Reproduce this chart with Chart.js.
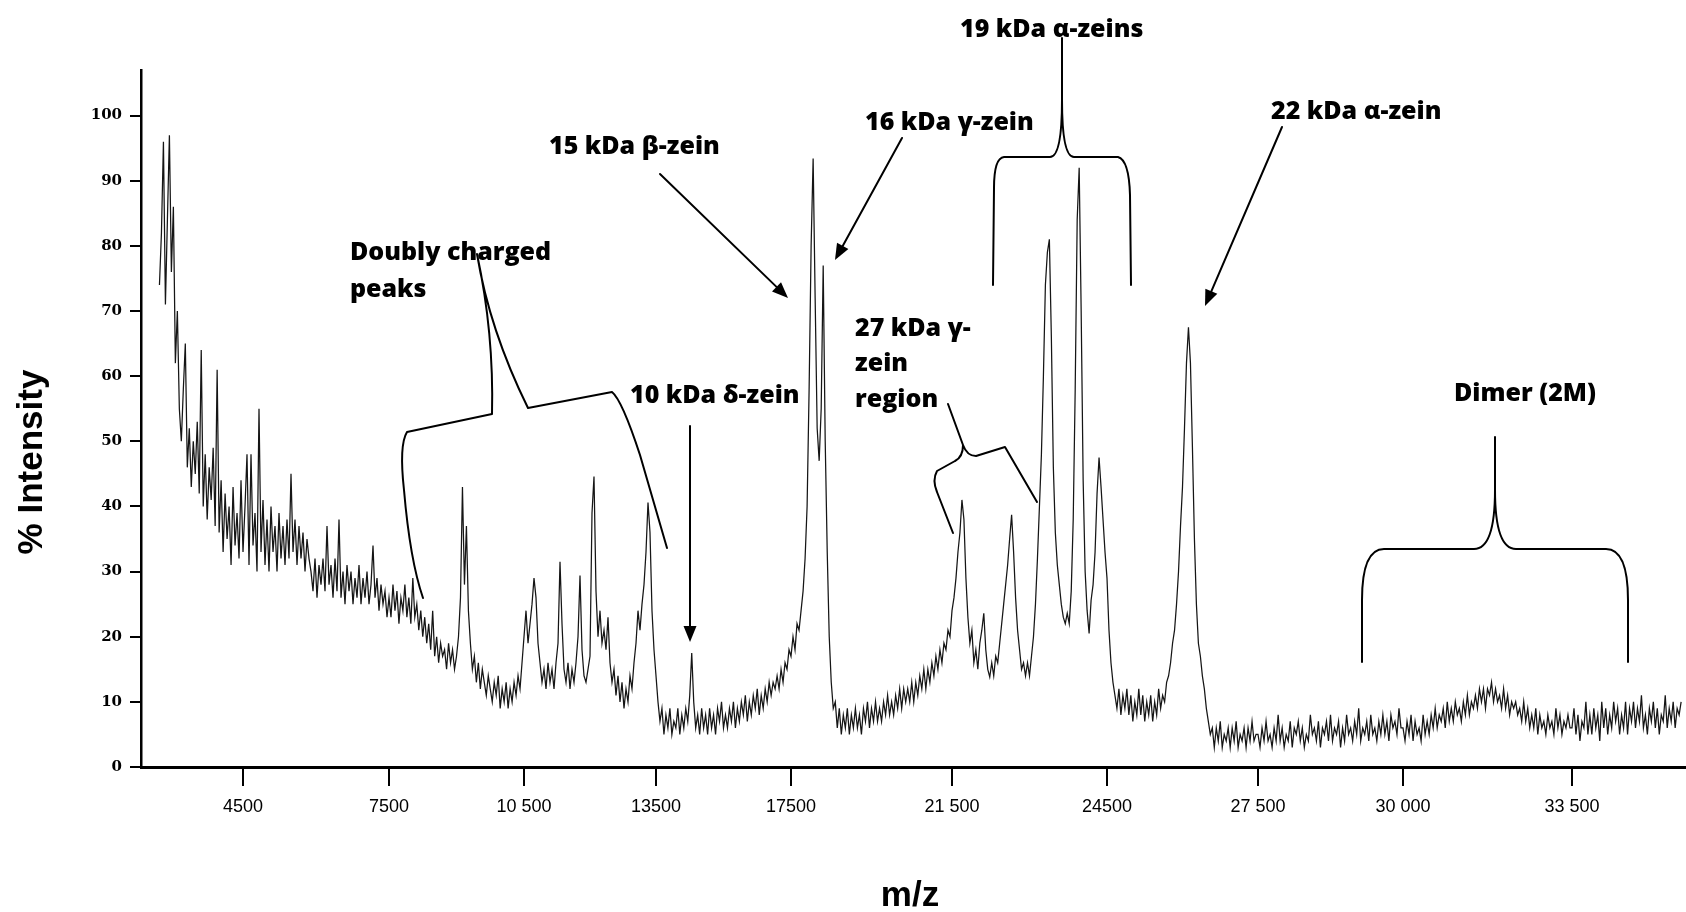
<!DOCTYPE html>
<html>
<head>
<meta charset="utf-8">
<title>Zein MALDI-TOF spectrum</title>
<script src="https://cdn.jsdelivr.net/npm/chart.js@4.4.1/dist/chart.umd.min.js"></script>
<style>
  html, body { margin: 0; padding: 0; background: #ffffff; }
  #wrap { width: 1686px; height: 912px; position: relative; }
  canvas { display: block; }
</style>
</head>
<body>
<div id="wrap"><canvas id="spectrum" width="1686" height="912"></canvas></div>
<script>
// ---- axis tick values and labels ----
const xTickValues = [4500, 7500, 10500, 13500, 17500, 21500, 24500, 27500, 30000, 33500];
const xTickLabels = ['4500', '7500', '10 500', '13500', '17500', '21 500', '24500', '27 500', '30 000', '33 500'];
const yTickValues = [0, 10, 20, 30, 40, 50, 60, 70, 80, 90, 100];

// ---- % intensity, sampled evenly across each m/z interval ----
const intensity2780 = [74, 82, 96, 71, 84, 97, 76, 86, 62, 70, 55, 50, 58, 65, 46, 52, 43, 50, 45, 53, 42, 64, 40, 48, 38, 46, 41, 49, 37, 61, 36, 44, 33, 42, 35, 40, 31, 43, 34, 39, 32, 44];
const intensity4500 = [33, 40, 48, 31, 48, 34, 39, 30, 55, 33, 41, 31, 38, 30, 40, 33, 37, 30, 39, 32, 37, 31, 38, 32, 45, 33, 38, 31, 37, 32, 36, 30, 35, 32, 30, 27, 32, 26, 31, 28, 32, 27, 37, 28, 31, 26, 32, 27, 38, 26, 30, 25, 31, 27, 30, 25, 29, 26, 31, 25, 29, 26, 30, 25, 28, 34, 26, 29, 24, 28, 25, 27, 23];
const intensity7500 = [26, 23, 28, 24, 27, 22, 26, 24, 28, 23, 26, 22, 29, 23, 25, 21, 24, 20, 23, 19, 22, 18, 24, 17, 20, 16, 19, 17, 18, 15, 19, 16, 18, 15, 17, 20, 26, 43, 28, 37, 24, 19, 15, 17, 13, 16, 12, 15, 13, 11, 14, 12, 10, 13, 11, 14, 9, 12, 10, 13, 9, 12, 10, 13, 11, 14, 12, 16];
const intensity10500 = [20, 24, 19, 22, 25, 29, 26, 19, 16, 13, 15, 12, 16, 13, 15, 12, 16, 19, 31.5, 22, 15, 13, 16, 12, 15, 13, 16, 20, 29.4, 18, 14, 13, 15, 17, 39, 44.6, 27, 20, 24, 19, 21, 18, 23, 16, 13, 15, 11, 14, 10, 13, 9, 12, 10, 14, 12, 16, 19, 24, 21, 25, 28, 33, 40.6, 36, 24, 18];
const intensity13500 = [14, 10, 7, 9, 5, 8, 6, 9, 5, 7, 6, 9, 5, 8, 6, 9, 7, 11, 17.5, 10, 6, 8, 5, 9, 6, 8, 5, 9, 6, 8, 5, 9, 7, 10, 6, 8, 6, 9, 7, 10, 6, 9, 7, 10, 8, 11, 7, 10, 8, 11, 9, 12, 8, 11, 9, 12, 10, 13, 11, 13, 12, 14, 12, 15, 13, 16, 15, 18];
const intensity17500 = [17, 20, 18, 22, 21, 24, 27, 32, 40, 58, 80, 93.4, 72, 52, 47, 55, 77, 50, 33, 20, 13, 9, 10, 6, 9, 5, 8, 6, 9, 5, 8, 6, 9, 6, 8, 5, 9, 7, 10, 6, 9, 7, 10, 7, 9, 7, 10, 8, 11, 8, 10, 8, 11, 9, 12, 9, 12, 10, 12, 10, 13, 10, 13, 11, 14, 12, 15, 12, 15, 13, 16, 14, 17, 15, 18, 16, 19, 18, 21, 20];
const intensity21500 = [24, 26, 29, 33, 36, 41, 38, 29, 23, 19, 21, 16, 18, 15, 19, 21, 23.6, 18, 15, 13.8, 16, 14, 17, 16, 19, 22, 25, 28, 31, 35, 38.7, 33, 26, 21, 18, 15, 16, 14, 16, 14, 17, 20, 25, 32, 40, 48, 60, 74, 79, 81, 66, 46, 36, 31, 28, 25, 23, 22, 23.6, 22, 27, 38, 58, 84, 92, 70, 44, 30, 24, 20.5, 25.6, 28, 33, 42, 47.5, 43, 38, 33];
const intensity24500 = [29, 21, 16, 13, 11, 9, 12, 8, 11, 9, 12, 8, 11, 7, 10, 8, 12, 8, 11, 7, 10, 8, 11, 7, 10, 8, 12, 9, 11, 10, 13, 14, 16, 19, 21, 25, 30, 37, 43, 52, 62, 67.5, 62, 49, 35, 25, 19, 17, 14, 12, 9, 7, 5, 6, 3, 6, 4, 7, 3, 5, 4, 6, 3, 6, 4, 7, 3, 5, 4, 6, 3, 6, 4, 7, 4, 5];
const intensity27500 = [5, 3, 6, 4, 7, 4, 5, 3, 6, 4, 8, 4, 6, 3, 5, 4, 7, 3, 6, 5, 7, 4, 6, 3, 5, 4, 8, 5, 6, 4, 7, 3, 6, 5, 7, 4, 8, 4, 6, 5, 7, 3, 6, 4, 8, 5, 6, 4, 7, 5, 9, 4, 6, 5, 7, 4, 8, 5, 6, 4, 7, 5, 8, 5, 7, 4, 8, 6, 7, 5, 9, 6];
const intensity30000 = [6, 4, 7, 5, 8, 4, 7, 5, 6, 4, 8, 5, 7, 5, 8, 6, 9, 6, 8, 7, 9, 6, 10, 7, 9, 7, 10, 8, 9, 7, 10, 8, 11, 8, 10, 9, 11, 9, 12, 10, 12, 9, 12, 11, 13, 10, 12, 10, 11, 9, 12, 9, 11, 8, 10, 9, 10, 8, 9, 7, 10, 7, 9, 6, 8, 6, 9, 5, 8, 6, 7, 5, 8, 6, 7, 5, 9, 6, 8, 5, 7, 6, 8, 6];
const intensity33500 = [6, 9, 5, 8, 4, 7, 6, 10, 5, 8, 5, 9, 6, 8, 4, 10, 6, 9, 5, 8, 6, 10, 7, 9, 5, 8, 6, 10, 5, 9, 7, 10, 6, 9, 7, 11, 6, 8, 5, 9, 7, 10, 6, 9, 5, 8, 7, 11, 6, 9, 7, 10, 6, 9, 8, 10];

// m/z interval covered by each block of samples
const spectrumBlocks = [
  [2780, 4500, intensity2780],
  [4500, 7500, intensity4500],
  [7500, 10500, intensity7500],
  [10500, 13500, intensity10500],
  [13500, 17500, intensity13500],
  [17500, 21500, intensity17500],
  [21500, 24500, intensity21500],
  [24500, 27500, intensity24500],
  [27500, 30000, intensity27500],
  [30000, 33500, intensity30000],
  [33500, 35800, intensity33500]
];

// annotation texts
const peakLabels = ['19 kDa α-zeins', '16 kDa γ-zein', '15 kDa β-zein', '22 kDa α-zein', 'Doubly charged', 'peaks', '10 kDa δ-zein', '27 kDa γ-', 'zein', 'region', 'Dimer (2M)'];

const spectrumPoints = spectrumBlocks.flatMap(([from, to, vals]) =>
  vals.map((y, i) => ({ x: from + (to - from) * i / vals.length, y })));

// ---- m/z axis: calibrated piecewise between the labelled marks ----
const mzStops = [2400, 4500, 7500, 10500, 13500, 17500, 21500, 24500, 27500, 30000, 33500, 35860];
const mzStopFractions = [0, 0.06602, 0.16052, 0.24790, 0.33333, 0.42071, 0.52492, 0.62524, 0.72298, 0.81683, 0.92621, 1];

function mzToFraction(v) {
  let k = 0;
  while (k < mzStops.length - 2 && v > mzStops[k + 1]) k++;
  const t = (v - mzStops[k]) / (mzStops[k + 1] - mzStops[k]);
  return mzStopFractions[k] + t * (mzStopFractions[k + 1] - mzStopFractions[k]);
}
function fractionToMz(f) {
  let k = 0;
  while (k < mzStopFractions.length - 2 && f > mzStopFractions[k + 1]) k++;
  const t = (f - mzStopFractions[k]) / (mzStopFractions[k + 1] - mzStopFractions[k]);
  return mzStops[k] + t * (mzStops[k + 1] - mzStops[k]);
}

class CalibratedMzScale extends Chart.LinearScale {
  getPixelForValue(value) {
    if (value === null || value === undefined || isNaN(value)) return NaN;
    return this.getPixelForDecimal(mzToFraction(value));
  }
  getValueForPixel(pixel) {
    return fractionToMz(this.getDecimalForPixel(pixel));
  }
}
CalibratedMzScale.id = 'calibratedMz';
CalibratedMzScale.defaults = Chart.LinearScale.defaults;
Chart.register(CalibratedMzScale);

// ---- annotation overlay: labels, arrows, brackets, axis titles ----
function arrow(ctx, x1, y1, x2, y2) {
  const ang = Math.atan2(y2 - y1, x2 - x1);
  const len = 16, half = 6.5;
  const bx = x2 - len * Math.cos(ang), by = y2 - len * Math.sin(ang);
  ctx.beginPath();
  ctx.moveTo(x1, y1);
  ctx.lineTo(bx, by);
  ctx.stroke();
  ctx.beginPath();
  ctx.moveTo(x2, y2);
  ctx.lineTo(bx + half * Math.sin(ang), by - half * Math.cos(ang));
  ctx.lineTo(bx - half * Math.sin(ang), by + half * Math.cos(ang));
  ctx.closePath();
  ctx.fill();
}

const annotationPlugin = {
  id: 'zeinAnnotations',
  afterDraw(chart) {
    const ctx = chart.ctx;
    ctx.save();
    ctx.fillStyle = '#000';
    ctx.strokeStyle = '#000';
    ctx.lineWidth = 2;
    ctx.lineJoin = 'round';
    ctx.lineCap = 'round';

    // peak labels
    const spots = [[960, 30], [865, 123], [549, 147], [1271, 112], [350, 253], [350, 290], [630, 396], [855, 329], [855, 364], [855, 400], [1454, 394]];
    ctx.font = "800 25px 'Open Sans', 'DejaVu Sans', sans-serif";
    ctx.textAlign = 'left';
    ctx.textBaseline = 'middle';
    peakLabels.forEach((t, i) => ctx.fillText(t, spots[i][0], spots[i][1]));

    // arrows
    arrow(ctx, 660, 174, 788, 298);
    arrow(ctx, 902, 138, 835, 260);
    arrow(ctx, 1282, 127, 1205, 306);
    arrow(ctx, 690, 426, 690, 642);

    // 19 kDa brace
    ctx.beginPath();
    ctx.moveTo(1062, 38); ctx.lineTo(1062, 100);
    ctx.quadraticCurveTo(1062, 157, 1050, 157);
    ctx.lineTo(1004, 157);
    ctx.quadraticCurveTo(994, 158, 994, 188);
    ctx.lineTo(993, 285);
    ctx.moveTo(1062, 100);
    ctx.quadraticCurveTo(1062, 157, 1074, 157);
    ctx.lineTo(1118, 157);
    ctx.quadraticCurveTo(1129, 160, 1130, 195);
    ctx.lineTo(1131, 285);
    ctx.stroke();

    // doubly charged bracket
    ctx.beginPath();
    ctx.moveTo(477, 254);
    ctx.quadraticCurveTo(494, 333, 492, 414);
    ctx.lineTo(407, 432);
    ctx.quadraticCurveTo(399, 445, 404, 490);
    ctx.quadraticCurveTo(410, 560, 423, 598);
    ctx.moveTo(477, 254);
    ctx.quadraticCurveTo(489.5, 330, 528, 408);
    ctx.lineTo(612, 392);
    ctx.quadraticCurveTo(622, 400, 640, 455);
    ctx.lineTo(667, 548);
    ctx.stroke();

    // 27 kDa region bracket
    ctx.beginPath();
    ctx.moveTo(948, 404);
    ctx.lineTo(963, 445);
    ctx.quadraticCurveTo(967, 456, 976, 456);
    ctx.lineTo(1005, 447);
    ctx.lineTo(1037, 502);
    ctx.moveTo(963, 445);
    ctx.quadraticCurveTo(963, 457, 955, 461);
    ctx.lineTo(937, 471);
    ctx.quadraticCurveTo(932, 480, 937, 492);
    ctx.lineTo(953, 533);
    ctx.stroke();

    // dimer brace
    ctx.beginPath();
    ctx.moveTo(1495, 437); ctx.lineTo(1495, 490);
    ctx.quadraticCurveTo(1495, 549, 1474, 549);
    ctx.lineTo(1384, 549);
    ctx.quadraticCurveTo(1362, 549, 1362, 600);
    ctx.lineTo(1362, 662);
    ctx.moveTo(1495, 490);
    ctx.quadraticCurveTo(1495, 549, 1516, 549);
    ctx.lineTo(1606, 549);
    ctx.quadraticCurveTo(1628, 549, 1628, 600);
    ctx.lineTo(1628, 662);
    ctx.stroke();

    // axis titles
    ctx.font = "bold 35px 'Liberation Sans', Arial, sans-serif";
    ctx.textAlign = 'center';
    ctx.textBaseline = 'middle';
    ctx.fillText('m/z', 910, 896);
    ctx.translate(32, 462);
    ctx.rotate(-Math.PI / 2);
    ctx.fillText('% Intensity', 0, 0);
    ctx.restore();
  }
};

new Chart(document.getElementById('spectrum'), {
  type: 'line',
  data: {
    datasets: [{
      label: 'Zein extract',
      data: spectrumPoints,
      borderColor: '#151515',
      borderWidth: 1.25,
      pointRadius: 0,
      tension: 0,
      fill: false
    }]
  },
  options: {
    responsive: false,
    animation: false,
    layout: { padding: { top: 70, right: 0, bottom: 0, left: 0 } },
    plugins: { legend: { display: false }, tooltip: { enabled: false }, title: { display: false } },
    scales: {
      x: {
        type: 'calibratedMz',
        position: 'bottom',
        min: 2400,
        max: 35860,
        afterBuildTicks: s => { s.ticks = xTickValues.map(v => ({ value: v })); },
        afterFit: s => { s.height = 145; },
        border: { display: true, color: '#000', width: 3 },
        grid: { drawOnChartArea: false, drawTicks: true, tickLength: 19, color: '#000', lineWidth: 2 },
        ticks: {
          autoSkip: false, maxRotation: 0, minRotation: 0, padding: 10, color: '#000',
          font: { family: "'Liberation Sans', Arial, sans-serif", size: 18 },
          callback: (v, i) => xTickLabels[i]
        }
      },
      y: {
        type: 'linear',
        min: 0,
        max: 107,
        afterBuildTicks: s => { s.ticks = yTickValues.map(v => ({ value: v })); },
        afterFit: s => { s.width = 141; },
        border: { display: true, color: '#000', width: 2.5 },
        grid: { drawOnChartArea: false, drawTicks: true, tickLength: 11, color: '#000', lineWidth: 2 },
        ticks: {
          padding: 8, color: '#000',
          font: { family: "'DejaVu Serif', serif", size: 15, weight: 'bold' }
        }
      }
    }
  },
  plugins: [annotationPlugin]
});
</script>
</body>
</html>
